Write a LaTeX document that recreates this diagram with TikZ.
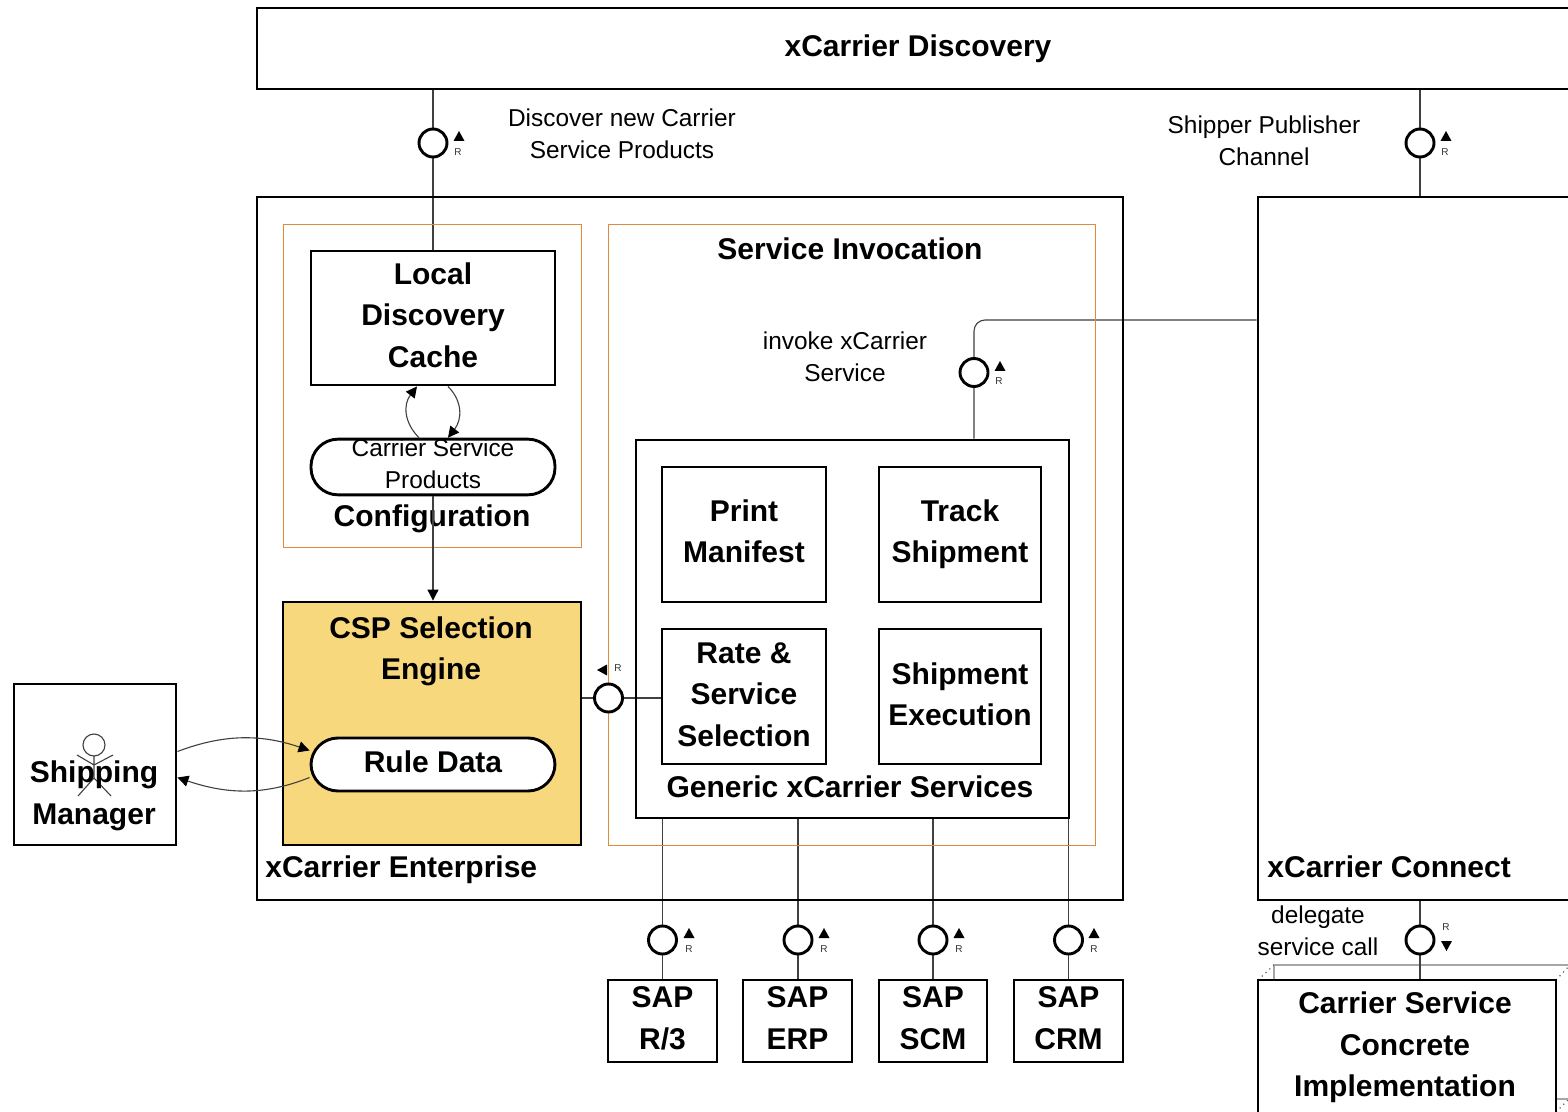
\documentclass[tikz,border=0pt]{standalone}
\usepackage{fontspec}
\setmainfont{Liberation Sans}
\usetikzlibrary{arrows.meta,backgrounds,calc}
\definecolor{engine}{HTML}{F8D87C}
\definecolor{frameor}{HTML}{E08A3C}
\tikzset{
  x=0.5pt,y=-0.5pt,
  sz/.style 2 args={minimum width=#1*0.5pt,minimum height=#2*0.5pt,inner sep=0pt},
  heavy/.style={font=\bfseries\fontsize{15}{20.75}\selectfont,align=center,inner sep=0pt},
  plain/.style={font=\fontsize{12.2}{16}\selectfont,align=center,inner sep=0pt},
  bx/.style={draw=black,line width=1.45pt,heavy,text depth=3.2pt},
  pill/.style={bx,rounded corners=13.5pt},
  zone/.style={draw=frameor,line width=0.48pt,inner sep=0pt},
  lolli/.style={circle,draw=black,line width=1.45pt,fill=white,minimum size=14pt,inner sep=0pt},
  wire/.style={draw=black!75,line width=0.55pt},
  tip/.style={-{Triangle[length=5.5pt,width=5.5pt,color=black,fill=black]}},
  rmark/.style={font=\fontsize{5}{5}\selectfont,inner sep=0pt,text=black!80},
  tri/.style={fill=black,draw=none},
}
\begin{document}
\begin{tikzpicture}
\clip (0,0) rectangle (1568,1112);
\useasboundingbox (0,0) rectangle (1568,1112);
% containers
\node[bx,sz={1322}{81}] (disc) at (918,48.5) {xCarrier Discovery};
\node[bx,sz={866}{703}] (ent) at (690,548.5) {};
\node[bx,sz={342}{703}] (conn) at (1429,548.5) {};
\node[zone,sz={297.4}{323.6}] (cfg) at (432.3,386) {};
\node[zone,sz={486.6}{620.6}] (inv) at (851.7,534.7) {};
\node[bx,fill=engine,sz={298}{243}] (csp) at (432,723.5) {};
\node[bx,sz={433}{378}] (gen) at (852.5,629) {};
% inner boxes
\node[bx,sz={244}{134}] (cache) at (433,318) {Local\\Discovery\\Cache};
\node[pill,sz={244}{54},font=\fontsize{12.2}{16}\selectfont,text depth=3pt] (prod) at (433,467) {Carrier Service\\Products};
\node[pill,sz={244}{53},fill=white] (rule) at (433,764.5) {Rule Data};
\node[bx,sz={164}{135}] (print) at (744,534.5) {Print\\Manifest};
\node[bx,sz={162}{135}] (track) at (960,534.5) {Track\\Shipment};
\node[bx,sz={164}{135},text depth=2.2pt] (rate) at (744,696.5) {Rate \&\\Service\\Selection};
\node[bx,sz={162}{135},text depth=2.2pt] (exec) at (960,696.5) {Shipment\\Execution};
\node[bx,sz={109}{82}] (r3) at (662.5,1021) {SAP\\R/3};
\node[bx,sz={109}{82}] (erp) at (797.5,1021) {SAP\\ERP};
\node[bx,sz={108}{82}] (scm) at (933,1021) {SAP\\SCM};
\node[bx,sz={109}{82}] (crm) at (1068.5,1021) {SAP\\CRM};
\node[bx,sz={162}{161}] (mgr) at (95,764.5) {};
\node[bx,sz={298}{160}] (impl) at (1407,1060) {};
% labels
\node[heavy] (lcfg) at (432,519) {Configuration};
\node[heavy] (linv) at (850,249) {Service Invocation};
\node[heavy] (lgen) at (850,787) {Generic xCarrier Services};
\node[heavy,anchor=west] (lent) at (265,870) {xCarrier Enterprise};
\node[heavy,anchor=west] (lcon) at (1267,867) {xCarrier Connect};
\node[heavy] (lcsp) at (431,651.5) {CSP Selection\\Engine};
\node[heavy] (lmgr) at (94,796) {Shipping\\Manager};
\node[heavy] (limpl) at (1405,1047.5) {Carrier Service\\Concrete\\Implementation};
\node[plain] (t1) at (622,134) {Discover new Carrier\\Service Products};
\node[plain] (t2) at (1264,141) {Shipper Publisher\\Channel};
\node[plain] (t3) at (845,356.5) {invoke xCarrier\\Service};
\node[plain] (t4) at (1318,931) {delegate\\service call};
% lollipops
\node[lolli] (l1) at (433,143) {};
\node[lolli] (l2) at (1420,143) {};
\node[lolli] (l3) at (974,372.5) {};
\node[lolli] (l4) at (608.5,698) {};
\node[lolli] (l5) at (662.5,940) {};
\node[lolli] (l6) at (798,940) {};
\node[lolli] (l7) at (933,940) {};
\node[lolli] (l8) at (1068.5,940) {};
\node[lolli] (l9) at (1420,940) {};
% role marks
\foreach \x/\y in {459/136,1446/136,1000/366,689/933,824/933,959/933,1094/933}{
  \fill[tri] (\x-5.5,\y+5) -- (\x,\y-5) -- (\x+5.5,\y+5) -- cycle;
}
\fill[tri] (1441,941) -- (1452,941) -- (1446.5,951) -- cycle;
\fill[tri] (597,670) -- (607,664.5) -- (607,675.5) -- cycle;
\foreach \n/\x/\y in {a/458/152,b/1445/152,c/999/381,d/689/949,e/824/949,f/959/949,g/1094/949,h/1446/927,i/618/668}{
  \node[rmark] (rm\n) at (\x,\y) {R};
}
\begin{pgfonlayer}{background}
\fill[white] (0,0) rectangle (1568,1112);
% stacked outline behind the implementation box
\draw[black!35,line width=0.6pt] (1274,980) -- (1274,965) -- (1568,965);
\draw[black!60,line width=0.6pt,dotted] (1258,980) -- (1274,965);
\draw[black!60,line width=0.6pt,dotted] (1556,980) -- (1570,965);
\draw[black!60,line width=0.6pt,dotted] (1556,1112) -- (1570,1098);
\draw[black!35,line width=0.6pt] (1556,1099) -- (1568,1099);
% connectors
\draw[wire] (l1 |- disc.south) -- (l1) -- (l1 |- cache.north);
\draw[wire] (l2 |- disc.south) -- (l2) -- (l2 |- conn.north);
\coordinate (bend) at (974,320);
\draw[wire,rounded corners=5.5pt] (l3 |- gen.north) -- (l3) -- (bend) -- (bend -| conn.west);
\draw[wire] (rate.west |- l4) -- (l4) -- (l4 -| csp.east);
\draw[wire] (l5 |- gen.south) -- (l5) -- (l5 |- r3.north);
\draw[wire] (l6 |- gen.south) -- (l6) -- (l6 |- erp.north);
\draw[wire] (l7 |- gen.south) -- (l7) -- (l7 |- scm.north);
\draw[wire] (l8 |- gen.south) -- (l8) -- (l8 |- crm.north);
\draw[wire] (l9 |- conn.south) -- (l9) -- (l9 |- impl.north);
% stick figure
\draw[wire] (94,745) circle[radius=11];
\draw[wire] (94,756) -- (94,778) (77,755) -- (94,765) -- (113,755) (78,796) -- (94,778) -- (111,796);
\end{pgfonlayer}
\draw[wire,tip] (prod.south) -- (prod.south |- csp.north);
\draw[wire,tip] ([xshift=-7pt]prod.north) .. controls ++(-15,-15) and ++(-14,18) .. ([xshift=-8pt]cache.south);
\draw[wire,tip] ([xshift=7.5pt]cache.south) .. controls ++(15,15) and ++(14,-18) .. ([xshift=7.5pt]prod.north);
\draw[wire,tip] ([yshift=6.5pt]mgr.east) .. controls ++(45,-17) and ++(-50,-17) .. ([yshift=7pt]rule.west);
\draw[wire,tip] ([yshift=-6.5pt]rule.west) .. controls ++(-45,18) and ++(50,17) .. ([yshift=-6.5pt]mgr.east);
\end{tikzpicture}
\end{document}
